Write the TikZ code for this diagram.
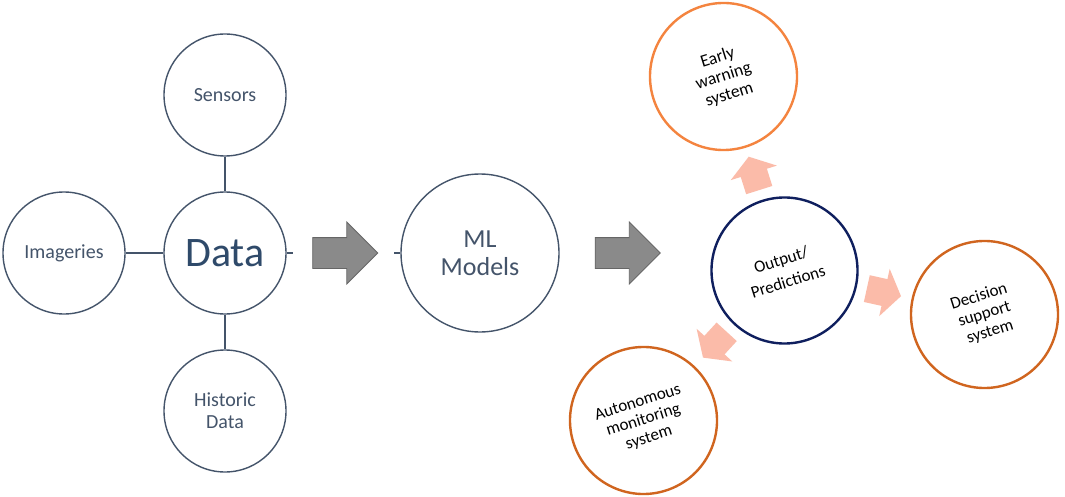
\documentclass[tikz,border=0pt]{standalone}
\usepackage{fontspec}
\setmainfont{Carlito}
\usetikzlibrary{shapes.arrows,calc}
\definecolor{slate}{HTML}{44546A}
\definecolor{datablue}{HTML}{2F4A6A}
\definecolor{navyc}{HTML}{0F1F5E}
\definecolor{orangeL}{HTML}{F4843F}
\definecolor{orangeD}{HTML}{D0651F}
\definecolor{pinkarrow}{HTML}{FBBBA9}
\definecolor{grayfill}{HTML}{8A8A8A}
\definecolor{grayline}{HTML}{666666}
\begin{document}
\begin{tikzpicture}[x=1pt,y=-1pt,
  datacircle/.style={circle,draw=slate,line width=1.4pt,minimum size=122pt,inner sep=0pt,
    text=slate,align=center,font=\fontsize{20}{22}\selectfont},
  link/.style={draw=slate,line width=1.2pt},
  grayarrow/.style={single arrow,draw=grayline,fill=grayfill,line width=0.8pt,
    inner xsep=0pt,inner ysep=15pt,minimum height=65pt,
    single arrow head extend=15.5pt,single arrow tip angle=90},
  outcircle/.style={circle,line width=2.4pt,minimum size=147pt,inner sep=0pt,
    align=center,rotate=17.5,text=black,font=\fontsize{17}{18.5}\selectfont},
  pinkblock/.style={single arrow,fill=pinkarrow,draw=none,inner xsep=0pt,inner ysep=13.5pt,
    minimum height=35pt,single arrow head extend=10.5pt,single arrow tip angle=110}
]
\useasboundingbox (0,0) rectangle (1065,497);
\fill[white] (0,0) rectangle (1065,497);

% left: data sources
\node[datacircle] (data) at (225,253) {\fontsize{42}{44}\selectfont\color{datablue}Data};
\node[datacircle] (sensors) at (225,95) {Sensors};
\node[datacircle] (imageries) at (64,253) {Imageries};
\node[datacircle] (historic) at (225,411) {Historic\\Data};
\draw[link] (sensors) -- (data);
\draw[link] (imageries) -- (data);
\draw[link] (data) -- (historic);
\coordinate (dtick) at (293,253);
\draw[link] (data.east) -- (dtick);

% ML models
\node[grayarrow] (arrow1) at (337.5,253) {};
\node[circle,draw=slate,line width=1.4pt,minimum size=158pt,inner sep=0pt,text=slate,
  align=center,font=\fontsize{26}{28}\selectfont] (ml) at (480,253) {ML\\Models};
\coordinate (mltick) at (394,253);
\draw[link] (ml.west) -- (mltick);
\node[grayarrow] (arrow2) at (620,253) {};

% outputs
\node[outcircle,draw=navyc,minimum size=146pt,font=\fontsize{17}{23}\selectfont] (out) at (784.5,270.5) {Output/\\Predictions};
\node[outcircle,draw=orangeL,font=\fontsize{17.5}{19.5}\selectfont] (ew) at (723.5,76.5) {Early\\warning\\system};
\node[outcircle,draw=orangeD] (dss) at (984.5,314.5) {Decision\\support\\system};
\node[outcircle,draw=orangeD] (ams) at (643.5,420.5) {Autonomous\\monitoring\\system};

\node[pinkblock,rotate=107.5] (p1) at ($(out)!97pt!(ew)$) {};
\node[pinkblock,rotate=-12.5] (p2) at ($(out)!97pt!(dss)$) {};
\node[pinkblock,rotate=227.5] (p3) at ($(out)!97pt!(ams)$) {};
\end{tikzpicture}
\end{document}
